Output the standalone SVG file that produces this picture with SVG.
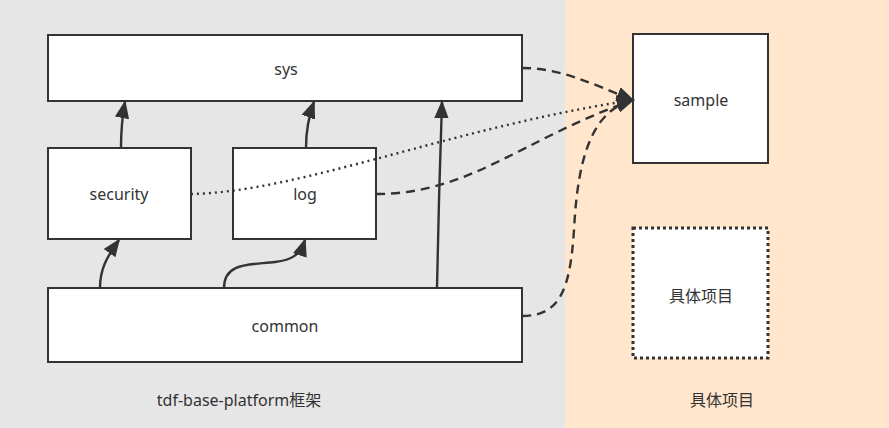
<svg xmlns="http://www.w3.org/2000/svg" width="889" height="428" viewBox="0 0 889 428">
<style>
.box{fill:#fff;stroke:#333;stroke-width:2}
.dot{fill:#fff;stroke:#333;stroke-width:3;stroke-dasharray:3 3}
.t{font-family:"Microsoft YaHei","Noto Sans","Noto Sans CJK SC",sans-serif;font-size:16px;fill:#333;text-anchor:middle;dominant-baseline:central}
.e{fill:none;stroke:#333;stroke-width:2.4}
.dash{stroke-dasharray:9 6}
.dt{stroke-dasharray:2 4}
</style>
<defs>
<marker id="arB" viewBox="0 0 10 10" refX="9" refY="5" markerWidth="18" markerHeight="18" markerUnits="userSpaceOnUse" orient="auto">
<path d="M0,1 L10,5 L0,9 Z" fill="#333"/>
</marker>
</defs>
<rect x="0" y="0" width="565" height="428" fill="#e6e6e6"/>
<rect x="565" y="0" width="324" height="428" fill="#ffe6cc"/>
<g id="sys"><rect class="box" x="48" y="35" width="474" height="66"/><text class="t" x="286" y="69">sys</text></g>
<g id="security"><rect class="box" x="48" y="148" width="143" height="91"/><text class="t" x="119" y="194">security</text></g>
<g id="log"><rect class="box" x="233" y="148" width="143" height="91"/><text class="t" x="305" y="194">log</text></g>
<g id="common"><rect class="box" x="48" y="288" width="474" height="74"/><text class="t" x="285" y="326">common</text></g>
<g id="sample"><rect class="box" x="633" y="34" width="135" height="129"/><text class="t" x="701" y="100">sample</text></g>
<g id="project"><rect class="dot" x="633" y="228" width="135" height="130"/><text class="t" x="701" y="296">具体项目</text></g>
<g id="labels">
<text class="t" x="239" y="400">tdf-base-platform框架</text>
<text class="t" x="722" y="400">具体项目</text>
</g>
<g id="connectors">
<path class="e" d="M121,148 C121,130 122,118 125,102" marker-end="url(#arB)"/>
<path class="e" d="M306,148 C306,130 308,118 314,102" marker-end="url(#arB)"/>
<path class="e" d="M437,288 C438,230 440,160 442,102" marker-end="url(#arB)"/>
<path class="e" d="M100,288 C100,270 106,258 119,240" marker-end="url(#arB)"/>
<path class="e" d="M224,288 C224,262 250,265 275,262 C292,260 300,255 305,240" marker-end="url(#arB)"/>
<path class="e dash" d="M522,68 C560,68 590,83 633,100" marker-end="url(#arB)"/>
<path class="e dt" d="M191,194 C300,192 450,128 633,100" marker-end="url(#arB)"/>
<path class="e dash" d="M376,194 C470,194 520,140 633,100" marker-end="url(#arB)"/>
<path class="e dash" d="M522,316 C560,316 570,290 574,230 C578,150 595,110 633,100" marker-end="url(#arB)"/>
</g>
</svg>
